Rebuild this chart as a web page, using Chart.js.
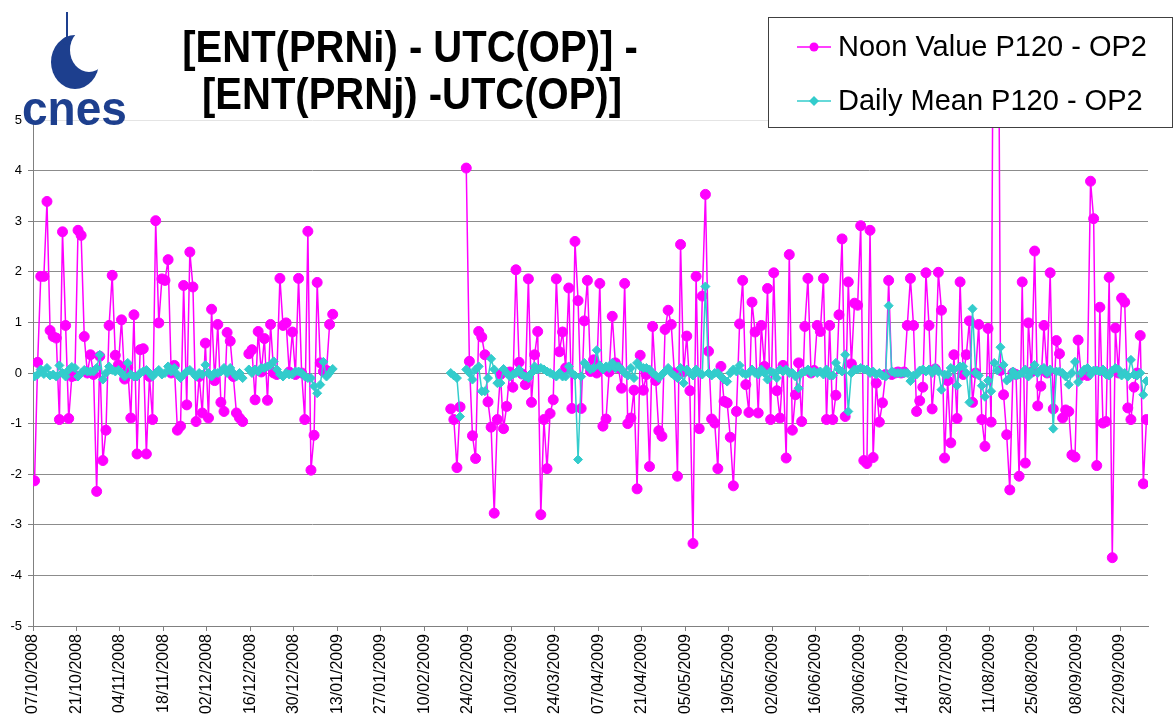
<!DOCTYPE html>
<html>
<head>
<meta charset="utf-8">
<title>ENT(PRNi) - ENT(PRNj)</title>
<script src="https://cdn.jsdelivr.net/npm/chart.js@4.4.1/dist/chart.umd.min.js"></script>
<style>
  html, body { margin: 0; padding: 0; background: #ffffff; }
  #chart { display: block; }
</style>
</head>
<body>
<canvas id="chart" width="1175" height="722"></canvas>
<script>
//DATA
//x axis tick labels, one every 14 days from 07/10/2008
const tickLabels = ['07/10/2008', '21/10/2008', '04/11/2008', '18/11/2008', '02/12/2008', '16/12/2008', '30/12/2008',
    '13/01/2009', '27/01/2009', '10/02/2009', '24/02/2009', '10/03/2009', '24/03/2009', '07/04/2009', '21/04/2009',
    '05/05/2009', '19/05/2009', '02/06/2009', '16/06/2009', '30/06/2009', '14/07/2009', '28/07/2009', '11/08/2009',
    '25/08/2009', '08/09/2009', '22/09/2009'];
const tickStep = 14;
const lastDay = 359;

//first block of measures starts on day 0 (07/10/2008)
const seg1Start = 0;
const noonSeg1 = [
    -2.13, 0.21, 1.91, 1.91, 3.39, 0.84, 0.72, 0.69, -0.92, 2.79,
    0.94, -0.90, -0.07, -0.05, 2.82, 2.72, 0.72, 0.00, 0.36, -0.03,
    -2.34, 0.33, -1.73, -1.13, 0.94, 1.93, 0.35, 0.16, 1.05, -0.12,
    0.10, -0.89, 1.15, -1.60, 0.46, 0.48, -1.60, -0.07, -0.92, 3.01,
    0.99, 1.86, 1.83, 2.24, 0.00, 0.15, -1.13, -1.05, 1.73, -0.63,
    2.39, 1.70, -0.96, -0.07, -0.79, 0.59, -0.89, 1.26, -0.15, 0.96,
    -0.58, -0.76, 0.80, 0.63, -0.07, -0.79, -0.89, -0.96, null, 0.38,
    0.46, -0.53, 0.82, 0.02, 0.68, -0.54, 0.96, 0.00, -0.03, 1.87,
    0.94, 0.99, 0.02, 0.81, -0.03, 1.87, 0.00, -0.92, 2.80, -1.92,
    -1.23, 1.79, 0.20, 0.03, 0.05, 0.96, 1.16
];
const meanSeg1 = [
    -0.07, -0.03, 0.07, -0.02, 0.10, -0.05, -0.03, -0.07, 0.15, 0.00,
    -0.07, 0.06, 0.12, 0.10, -0.07, 0.00, 0.06, 0.03, 0.03, 0.03,
    0.10, 0.36, -0.13, 0.00, 0.13, 0.06, 0.03, 0.06, 0.00, -0.07,
    0.20, -0.03, -0.07, -0.07, 0.00, 0.03, 0.06, 0.00, -0.07, 0.00,
    0.06, -0.03, 0.00, 0.13, 0.03, 0.10, -0.03, -0.10, -0.03, 0.03,
    0.06, 0.00, -0.07, 0.00, -0.03, 0.16, 0.00, -0.07, 0.00, 0.00,
    0.03, 0.10, 0.00, 0.10, 0.00, -0.07, 0.00, -0.10, null, 0.07,
    0.00, 0.07, 0.03, 0.10, 0.10, 0.13, 0.16, 0.23, 0.07, -0.03,
    -0.07, 0.00, -0.03, -0.03, 0.03, 0.03, 0.00, -0.07, -0.10, -0.10,
    -0.26, -0.40, -0.23, 0.22, -0.07, 0.00, 0.08
];

//second block starts on day 134 (18/02/2009)
const seg2Start = 134;
const noonSeg2 = [
    -0.71, -0.92, -1.87, -0.67, null, 4.05, 0.23, -1.24, -1.69, 0.82,
    0.71, 0.36, -0.57, -1.07, -2.77, -0.92, -0.03, -1.10, -0.66, 0.02,
    -0.28, 2.04, 0.21, -0.02, -0.23, 1.86, -0.58, 0.36, 0.82, -2.80,
    -0.92, -1.89, -0.80, -0.53, 1.86, 0.42, 0.81, 0.10, 1.68, -0.70,
    2.60, 1.43, -0.70, 1.03, 1.83, 0.03, 0.26, 0.00, 1.77, -1.05,
    -0.91, 0.02, 1.12, 0.20, 0.10, -0.30, 1.77, -1.00, -0.89, -0.34,
    -2.29, 0.35, -0.34, -0.03, -1.85, 0.92, -0.15, -1.14, -1.25, 0.86,
    1.24, 0.96, 0.00, -2.04, 2.54, 0.02, 0.73, -0.35, -3.37, 1.91,
    -1.10, 1.52, 3.53, 0.43, -0.91, -0.99, -1.89, 0.13, -0.56, -0.59,
    -1.27, -2.23, -0.76, 0.97, 1.83, -0.23, -0.78, 1.40, 0.81, -0.79,
    0.94, 0.13, 1.67, -0.92, 1.98, -0.35, -0.89, 0.15, -1.68, 2.34,
    -1.13, -0.43, 0.20, -0.96, 0.92, 1.87, 0.00, 0.05, 0.94, 0.82,
    1.87, -0.92, 0.94, -0.92, -0.44, 1.15, 2.65, -0.86, 1.80, 0.18,
    1.38, 1.34, 2.91, -1.73, -1.79, 2.82, -1.67, -0.20, -0.97, -0.59,
    -0.03, 1.83, -0.03, 0.00, 0.02, 0.00, 0.02, 0.94, 1.87, 0.94,
    -0.76, -0.55, -0.28, 1.98, 0.94, -0.71, 0.08, 1.99, 1.24, -1.68,
    -0.15, -1.38, 0.36, -0.90, 1.80, -0.03, 0.36, 1.03, -0.58, 0.00,
    0.96, -0.92, -1.45, 0.88, -0.97, 12.0, 12.0, 0.05, -0.43, -1.22,
    -2.31, 0.00, -0.03, -2.04, 1.80, -1.78, 0.99, 0.02, 2.41, -0.65,
    -0.26, 0.94, 0.00, 1.98, -0.71, 0.64, 0.38, -0.89, -0.73, -0.76,
    -1.62, -1.66, 0.65, -0.05, 0.00, -0.05, 3.79, 3.05, -1.83, 1.30,
    -0.99, -0.96, 1.89, -3.65, 0.89, 0.00, 1.48, 1.40, -0.69, -0.92,
    -0.28, 0.00, 0.74, -2.19, -0.92
];
const meanSeg2 = [
    0.00, -0.05, -0.10, -0.86, null, 0.07, 0.00, -0.13, 0.07, 0.13,
    -0.36, -0.36, -0.10, 0.28, 0.07, -0.20, -0.20, 0.08, 0.00, -0.07,
    -0.03, 0.00, 0.07, -0.03, -0.07, -0.10, 0.00, 0.13, 0.07, 0.10,
    0.07, 0.03, 0.00, -0.03, -0.07, 0.00, -0.07, -0.07, 0.13, 0.00,
    -0.05, -1.71, -0.07, 0.20, 0.13, 0.07, 0.10, 0.45, 0.15, 0.07,
    0.13, 0.10, 0.20, 0.10, 0.13, 0.07, 0.00, -0.05, 0.10, -0.10,
    0.20, 0.13, 0.10, 0.10, 0.07, 0.00, -0.05, -0.10, -0.03, 0.03,
    0.10, 0.00, -0.05, -0.10, 0.10, -0.20, 0.07, 0.00, -0.05, 0.07,
    0.00, -0.03, 1.71, 0.00, -0.05, 0.00, 0.00, -0.07, -0.13, -0.17,
    0.00, 0.07, 0.03, 0.15, 0.00, -0.03, 0.00, 0.07, 0.00, -0.03,
    0.07, 0.00, -0.13, 0.03, 0.00, -0.10, 0.07, 0.03, 0.07, 0.00,
    0.00, -0.07, -0.30, 0.00, 0.03, 0.07, 0.00, 0.03, 0.00, 0.03,
    -0.03, 0.07, -0.05, -0.05, 0.20, 0.07, 0.03, 0.36, -0.76, 0.00,
    0.07, 0.07, 0.10, 0.07, 0.07, 0.00, 0.03, -0.03, 0.00, -0.05,
    -0.07, 1.33, 0.03, 0.00, 0.00, 0.00, 0.00, 0.00, -0.16, -0.05,
    -0.03, 0.05, 0.07, 0.03, 0.07, 0.00, 0.10, 0.03, -0.33, -0.03,
    -0.03, 0.10, 0.07, -0.25, 0.13, 0.13, 0.00, -0.58, 1.27, 0.00,
    -0.05, -0.25, -0.47, -0.15, -0.36, 0.20, 0.05, 0.51, 0.16, -0.15,
    -0.10, 0.03, -0.05, -0.03, 0.00, 0.07, -0.07, 0.03, 0.16, 0.00,
    0.07, 0.10, 0.00, 0.07, -1.10, 0.03, 0.03, 0.00, -0.07, -0.23,
    0.00, 0.22, -0.18, 0.00, 0.07, 0.10, -0.03, 0.05, 0.05, 0.03,
    0.07, -0.03, -0.05, 0.05, 0.10, 0.07, -0.05, 0.00, -0.07, 0.26,
    -0.03, -0.05, 0.00, -0.43, -0.16
];

const noonColor = '#FF00FF';
const meanColor = '#33CCCC';
const fontFamily = '"Liberation Sans", Arial, sans-serif';

//values are taken around noon, so each one sits half a day after its date tick
function toPoints(start, values) {
    return values.map(function (v, i) { return { x: start + i + 0.5, y: v }; });
}
function buildSeries(first, second) {
    let gap = { x: seg1Start + first.length + 0.5, y: null };
    return toPoints(seg1Start, first).concat([gap], toPoints(seg2Start, second));
}

//draws text squeezed like the original picture (taller than wide)
function tallText(ctx, text, x, y, stretch) {
    ctx.save();
    ctx.translate(x, y);
    ctx.scale(1, stretch);
    ctx.fillText(text, 0, 0);
    ctx.restore();
}

//HEADER, LOGO AND LEGEND
const decorPlugin = {
    id: 'decor',
    afterDraw: function (chart) {
        const ctx = chart.ctx;
        ctx.save();

        //cnes logo
        ctx.fillStyle = '#1d3f8e';
        ctx.beginPath();
        ctx.ellipse(75, 62, 24, 27, 0, 0, Math.PI * 2);
        ctx.fill();
        ctx.fillStyle = '#ffffff';
        ctx.beginPath();
        ctx.ellipse(89, 50, 19, 22, 0, 0, Math.PI * 2);
        ctx.fill();
        ctx.fillStyle = '#1d3f8e';
        ctx.fillRect(66, 12, 2, 27);
        ctx.beginPath();
        ctx.arc(67, 41, 4, 0, Math.PI * 2);
        ctx.fill();
        ctx.font = 'bold 46px ' + fontFamily;
        ctx.textAlign = 'left';
        ctx.textBaseline = 'alphabetic';
        tallText(ctx, 'cnes', 22, 125, 1.05);

        //title
        ctx.fillStyle = '#000000';
        ctx.font = 'bold 40px ' + fontFamily;
        ctx.textAlign = 'center';
        tallText(ctx, '[ENT(PRNi) - UTC(OP)] -', 410, 62, 1.1);
        tallText(ctx, '[ENT(PRNj) -UTC(OP)]', 412, 109, 1.1);

        //legend box
        ctx.fillStyle = '#ffffff';
        ctx.fillRect(768.5, 17.5, 404, 110);
        ctx.strokeStyle = '#404040';
        ctx.lineWidth = 1;
        ctx.strokeRect(768.5, 17.5, 404, 110);

        const rows = [
            { label: 'Noon Value P120 - OP2', color: noonColor, y: 47, style: 'circle' },
            { label: 'Daily Mean P120 - OP2', color: meanColor, y: 101, style: 'diamond' }
        ];
        ctx.font = '29px ' + fontFamily;
        ctx.textAlign = 'left';
        ctx.textBaseline = 'middle';
        rows.forEach(function (r) {
            ctx.strokeStyle = r.color;
            ctx.fillStyle = r.color;
            ctx.lineWidth = 1.5;
            ctx.beginPath();
            ctx.moveTo(797, r.y);
            ctx.lineTo(831, r.y);
            ctx.stroke();
            ctx.beginPath();
            if (r.style === 'circle') {
                ctx.arc(814, r.y, 4.5, 0, Math.PI * 2);
            } else {
                ctx.moveTo(814, r.y - 5);
                ctx.lineTo(819, r.y);
                ctx.lineTo(814, r.y + 5);
                ctx.lineTo(809, r.y);
                ctx.closePath();
            }
            ctx.fill();
            ctx.fillStyle = '#000000';
            ctx.fillText(r.label, 838, r.y + 1);
        });

        ctx.restore();
    }
};

//CHART
new Chart(document.getElementById('chart'), {
    type: 'line',
    data: {
        datasets: [{
            label: 'Daily Mean P120 - OP2',
            data: buildSeries(meanSeg1, meanSeg2),
            borderColor: meanColor,
            backgroundColor: meanColor,
            borderWidth: 1.5,
            pointStyle: 'rectRot',
            pointRadius: 4.5,
            pointBorderWidth: 1,
            order: 0
        }, {
            label: 'Noon Value P120 - OP2',
            data: buildSeries(noonSeg1, noonSeg2),
            borderColor: noonColor,
            backgroundColor: noonColor,
            borderWidth: 1.5,
            pointStyle: 'circle',
            pointRadius: 5,
            pointBorderWidth: 1,
            order: 1
        }]
    },
    options: {
        responsive: false,
        animation: false,
        devicePixelRatio: 1,
        spanGaps: false,
        layout: { padding: { top: 120, right: 27, bottom: 0, left: 0 } },
        plugins: {
            legend: { display: false },
            tooltip: { enabled: false }
        },
        scales: {
            x: {
                type: 'linear',
                min: 0,
                max: lastDay,
                afterBuildTicks: function (scale) {
                    scale.ticks = tickLabels.map(function (t, i) { return { value: i * tickStep }; });
                },
                afterFit: function (scale) { scale.height = 96; },
                ticks: {
                    autoSkip: false,
                    minRotation: 90,
                    maxRotation: 90,
                    padding: 3,
                    color: '#000000',
                    font: { family: fontFamily, size: 16 },
                    callback: function (v) { return tickLabels[Math.round(v / tickStep)]; }
                },
                grid: {
                    drawOnChartArea: false,
                    drawTicks: true,
                    tickLength: 5,
                    color: '#808080'
                },
                border: { color: '#808080', width: 1 }
            },
            y: {
                min: -5,
                max: 5,
                afterFit: function (scale) { scale.width = 33; },
                ticks: {
                    stepSize: 1,
                    padding: 6,
                    color: '#000000',
                    font: { family: fontFamily, size: 13 }
                },
                grid: {
                    color: function (c) { return c.tick && c.tick.value === 5 ? '#e4e4e4' : '#8c8c8c'; },
                    tickColor: '#808080',
                    tickLength: 5,
                    lineWidth: 1
                },
                border: { color: '#808080', width: 1 }
            }
        }
    },
    plugins: [decorPlugin]
});
</script>
</body>
</html>
